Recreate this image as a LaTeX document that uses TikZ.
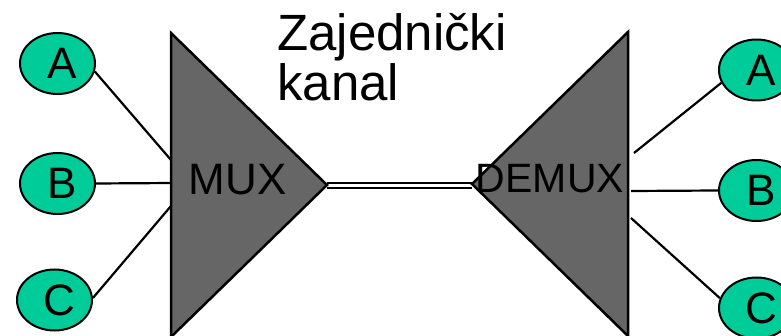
\documentclass[tikz,border=0pt]{standalone}
\usepackage{fontspec}
\setmainfont{Liberation Sans}
\usetikzlibrary{shapes.geometric}
\definecolor{kanalgreen}{RGB}{0,204,153}
\tikzset{
  kraj/.style={ellipse,draw,line width=2pt,fill=kanalgreen,
    minimum width=75pt,minimum height=61pt,inner sep=0pt,
    font=\fontsize{44}{44}\selectfont,
    execute at begin node=\hspace*{10pt}},
  mux/.style={draw,line width=2.5pt,fill=black!60,line join=miter},
  veza/.style={line width=2.2pt},
}

\begin{document}
\begin{tikzpicture}[x=1pt,y=-1pt]
    \useasboundingbox (0,0) rectangle (781,336);
    % ulazi i izlazi
    \node[kraj] (lA) at (57.5,63.5) {A};
    \node[kraj] (lB) at (57.5,183.5) {B};
    \node[kraj] (lC) at (54.5,300) {C};
    \node[kraj] (dA) at (756.5,70) {A};
    \node[kraj] (dB) at (756.5,190.5) {B};
    \node[kraj] (dC) at (756.5,308) {C};
    \coordinate (mA) at (171,160);
    \coordinate (mB) at (173,183);
    \coordinate (mC) at (171,206);
    \coordinate (mtip) at (327,185.5);
    \coordinate (xA) at (634,153);
    \coordinate (xB) at (631,191);
    \coordinate (xC) at (631,218);
    \coordinate (xtip) at (472,185.5);
    \draw[veza] (lA.-12)--(mA);
    \draw[veza] (lB.east)--(mB);
    \draw[veza] (lC.3)--(mC);
    \draw[veza] (xA)--(dA.-160);
    \draw[veza] (xB)--(dB.west);
    \draw[veza] (xC)--(dC.165);
    \draw[veza,double,double distance=3.5pt] (mtip)--(xtip);
    % MUX i DEMUX
    \draw[mux] (171,33)--(327,185)--(171,337)--cycle;
    \draw[mux] (628,32)--(472,184)--(628,336)--cycle;
    \node[anchor=base,font=\fontsize{44}{44}\selectfont] (mux) at (237.5,195) {MUX};
    \node[anchor=base,font=\fontsize{41}{41}\selectfont] (demux) at (550,193) {DEMUX};
    \node[anchor=north west,align=left,inner sep=0pt,
      font=\fontsize{51}{50}\selectfont] (naslov) at (277,13) {Zajednički\\kanal};
\end{tikzpicture}
\end{document}
